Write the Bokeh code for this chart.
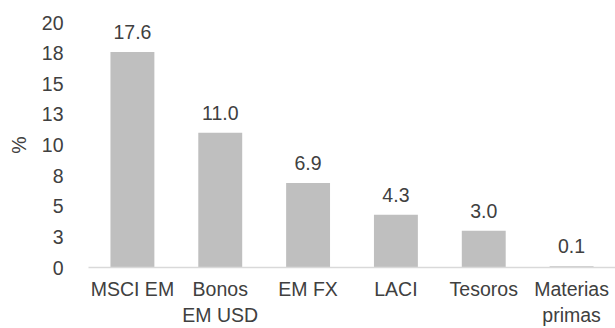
from bokeh.plotting import figure
from bokeh.models import ColumnDataSource, FixedTicker, Range1d, FactorRange
from bokeh.core.properties import value
from bokeh.embed import file_html
from bokeh.resources import INLINE

categories = ["MSCI EM", "Bonos\nEM USD", "EM FX", "LACI", "Tesoros", "Materias\nprimas"]
returns = [17.6, 11.0, 6.9, 4.3, 3.0, 0.1]
y_ticks = [0, 2.5, 5, 7.5, 10, 12.5, 15, 17.5, 20]
y_tick_labels = ["0", "3", "5", "8", "10", "13", "15", "18", "20"]

FONT = "Liberation Sans"
TXT = "#404040"
FS = "19.5px"

src = ColumnDataSource(dict(cat=categories, val=returns,
                            lab=[f"{v:.1f}" for v in returns]))

p = figure(x_range=FactorRange(*categories), y_range=Range1d(0, 20),
           width=615, height=328, output_backend="svg", toolbar_location=None,
           min_border_left=88, min_border_right=0, min_border_top=22,
           min_border_bottom=58)
p.outline_line_color = None
p.background_fill_color = "white"
p.border_fill_color = "white"

p.vbar(x="cat", top="val", width=0.5, source=src, color="#BFBFBF", line_color=None)
p.text(x="cat", y="val", text="lab", source=src, text_align="center",
       text_baseline="bottom", y_offset=-13, text_font=value(FONT),
       text_font_size=FS, text_color=TXT)

p.xgrid.visible = False
p.ygrid.visible = False

p.yaxis.ticker = FixedTicker(ticks=y_ticks)
p.yaxis.major_label_overrides = {t: l for t, l in zip(y_ticks, y_tick_labels)}
p.yaxis.axis_line_color = None
p.yaxis.major_tick_line_color = None
p.yaxis.minor_tick_line_color = None
p.yaxis.major_label_text_font = FONT
p.yaxis.major_label_text_font_size = FS
p.yaxis.major_label_text_color = TXT
p.yaxis.major_label_standoff = 19
p.yaxis.axis_label = "%"
p.yaxis.axis_label_text_font = FONT
p.yaxis.axis_label_text_font_size = FS
p.yaxis.axis_label_text_font_style = "normal"
p.yaxis.axis_label_text_color = TXT
p.yaxis.axis_label_standoff = 9

p.xaxis.axis_line_color = "#D9D9D9"
p.xaxis.axis_line_width = 1.5
p.xaxis.major_tick_line_color = None
p.xaxis.minor_tick_line_color = None
p.xaxis.major_label_text_font = FONT
p.xaxis.major_label_text_font_size = FS
p.xaxis.major_label_text_color = TXT
p.xaxis.major_label_standoff = 4
p.xaxis.major_label_orientation = "horizontal"

open("out.html", "w").write(file_html(p, INLINE))
